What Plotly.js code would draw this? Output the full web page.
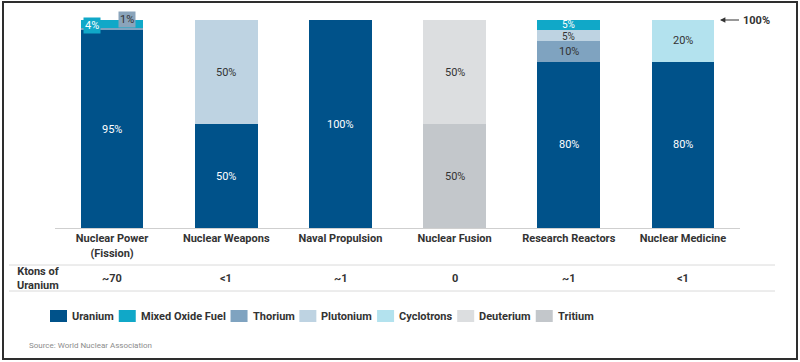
<!DOCTYPE html>
<html><head><meta charset="utf-8">
<script src="https://cdn.plot.ly/plotly-3.0.1.min.js"></script>
<style>
html,body{margin:0;padding:0;background:#fff;}
#chart{position:absolute;left:0;top:0;width:800px;height:362px;}
#frame{position:absolute;left:2px;top:1px;width:796px;height:359px;box-sizing:border-box;border:2px solid #2e2e2e;pointer-events:none;}
</style>
</head><body>
<div id="chart"></div><div id="frame"></div>
<script>
const categories = ['Nuclear Power<br>(Fission)', 'Nuclear Weapons', 'Naval Propulsion', 'Nuclear Fusion', 'Research Reactors', 'Nuclear Medicine'];
const uranium    = [95, 50, 100, 0, 80, 80];
const tritium    = [0, 0, 0, 50, 0, 0];
const thorium    = [1, 0, 0, 0, 10, 0];
const plutonium  = [0, 50, 0, 0, 5, 0];
const mox        = [4, 0, 0, 0, 5, 0];
const cyclotrons = [0, 0, 0, 0, 0, 20];
const deuterium  = [0, 0, 0, 50, 0, 0];
const ktons      = ['~70', '<1', '~1', '0', '~1', '<1'];
const legendOrder = ['Uranium', 'Mixed Oxide Fuel', 'Thorium', 'Plutonium', 'Cyclotrons', 'Deuterium', 'Tritium'];

const series = [
  {name:'Uranium', y:uranium, color:'#00528a', txt:'#ffffff'},
  {name:'Tritium', y:tritium, color:'#c3c7cb', txt:'#333333'},
  {name:'Thorium', y:thorium, color:'#7fa3c0', txt:'#333333'},
  {name:'Plutonium', y:plutonium, color:'#bed3e2', txt:'#333333'},
  {name:'Mixed Oxide Fuel', y:mox, color:'#10a8c8', txt:'#ffffff'},
  {name:'Cyclotrons', y:cyclotrons, color:'#b3e2ee', txt:'#333333'},
  {name:'Deuterium', y:deuterium, color:'#dcdee0', txt:'#333333'}
];

// plot geometry (pixels)
const W = 800, H = 362, M = {l:55, r:60, t:20, b:134};
const pw = W - M.l - M.r, ph = H - M.t - M.b;
const px = x => (x - M.l) / pw;          // page x -> paper x
const py = y => (H - M.b - y) / ph;       // page y -> paper y

const cat = categories.map((c,i)=>i);
const traces = series.map(s => ({
  type:'bar', name:s.name, x:cat, y:s.y,
  marker:{color:s.color, line:{width:0}},
  width:0.55, showlegend:false, hoverinfo:'skip'
}));

const pctFont = 'Roboto, Liberation Sans, Arial, sans-serif';
const boldFont = 'Roboto, Liberation Sans, Arial, sans-serif';
const annotations = [];
const shapes = [];
const cum = cat.map(()=>0);
series.forEach(s => {
  s.y.forEach((v,i) => {
    if (v > 0) {
      const mid = cum[i] + v/2;
      const top = cum[i] + v;
      if (i === 0 && v < 10) {
        const isMox = s.name === 'Mixed Oxide Fuel';
        annotations.push({x:i, y:100, xref:'x', yref:'y', text:v+'%', showarrow:false,
          xshift: isMox ? -20 : 15, yshift: isMox ? -5 : 1,
          bgcolor: isMox ? '#10a8c8' : '#8aa4bb', borderpad:1,
          font:{family:pctFont, size:11, color: isMox ? '#ffffff' : '#333333'}});
      } else {
        const small = v <= 5;
        annotations.push({x:i, y:mid, xref:'x', yref:'y', text:v+'%', showarrow:false,
          yshift: small ? (top >= 100 ? 1 : -1) : 0,
          font:{family:pctFont, size: small ? 10 : 11, color:s.txt}});
      }
      cum[i] += v;
    }
  });
});

// Ktons row
ktons.forEach((k,i) => annotations.push({x:i, y:py(278), xref:'x', yref:'paper', text:k, showarrow:false,
  xanchor:'center', yanchor:'middle',
  font:{family:boldFont, size:11, color:'#333333', weight:'bold'}}));
annotations.push({x:px(38), y:py(278), xref:'paper', yref:'paper', text:'Ktons of<br>Uranium', showarrow:false,
  xanchor:'center', yanchor:'middle',
  font:{family:boldFont, size:11, color:'#333333', weight:'bold'}});
shapes.push({type:'line', xref:'paper', yref:'paper', x0:px(9), x1:px(775), y0:py(265), y1:py(265), line:{color:'#dadada', width:1}});
shapes.push({type:'line', xref:'paper', yref:'paper', x0:px(9), x1:px(775), y0:py(291), y1:py(291), line:{color:'#dadada', width:1}});

// Source
annotations.push({x:px(27), y:py(345), xref:'paper', yref:'paper', xanchor:'left', yanchor:'middle',
  text:'Source: World Nuclear Association', showarrow:false,
  font:{family:'Roboto, Liberation Sans, Arial, sans-serif', size:8, color:'#8c8c8c'}});

// 100% marker
annotations.push({x:px(720), y:100, xref:'paper', yref:'y', ax:21, ay:0, xanchor:'left', yanchor:'middle', text:'100%', showarrow:true,
  arrowhead:2, arrowsize:0.9, arrowwidth:1.2, arrowcolor:'#333333', standoff:0, startstandoff:2,
  font:{family:boldFont, size:11, color:'#333333', weight:'bold'}});

// Legend (swatches + labels), laid out from measured text widths
const ctx = document.createElement('canvas').getContext('2d');
ctx.font = 'bold 11px Roboto';
let lx = 50;
legendOrder.forEach(name => {
  const s = series.find(t => t.name === name);
  shapes.push({type:'rect', xref:'paper', yref:'paper', x0:px(lx), x1:px(lx+17), y0:py(310), y1:py(322),
    fillcolor:s.color, line:{width:0}});
  annotations.push({x:px(lx+20), y:py(316), xref:'paper', yref:'paper', xanchor:'left', yanchor:'middle',
    text:name, showarrow:false, font:{family:boldFont, size:11, color:'#333333', weight:'bold'}});
  lx += 20 + ctx.measureText(name).width + 7;
});

const layout = {
  width:W, height:H,
  margin:M,
  barmode:'stack',
  paper_bgcolor:'#ffffff', plot_bgcolor:'#ffffff',
  showlegend:false,
  xaxis:{tickmode:'array', tickvals:cat, ticktext:categories, range:[-0.5,5.5],
    showline:true, linecolor:'#cfcfcf', linewidth:1, ticks:'', showgrid:false, zeroline:false,
    tickfont:{family:boldFont, size:11, color:'#333333', weight:'bold'}, fixedrange:true},
  yaxis:{range:[0,100], visible:false, showgrid:false, zeroline:false, fixedrange:true},
  annotations:annotations, shapes:shapes
};

Plotly.newPlot('chart', traces, layout, {displayModeBar:false, staticPlot:true});
</script>
</body></html>
